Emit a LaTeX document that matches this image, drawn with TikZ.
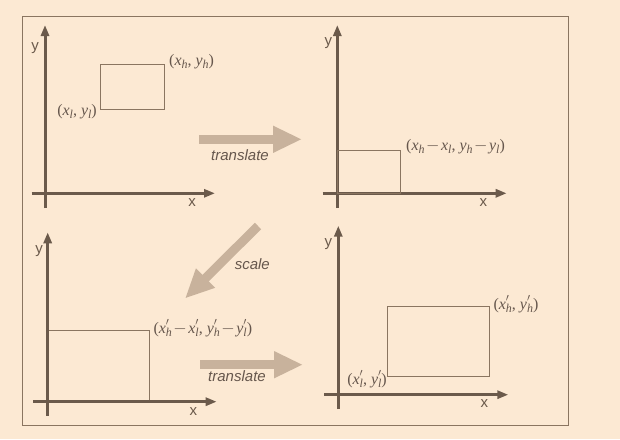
\documentclass[tikz,border=0pt]{standalone}
\usepackage{fontspec}
\setmainfont{Liberation Serif}
\setsansfont{Liberation Sans}
\usetikzlibrary{arrows.meta}
\definecolor{bg}{HTML}{FCE9D3}
\definecolor{axisc}{HTML}{6B5A4B}
\definecolor{rectc}{HTML}{8A7560}
\definecolor{fatc}{HTML}{C8B29C}
\definecolor{txtc}{HTML}{66574D}
\newcommand\myvar[3]{\textit{#1}\makebox[0pt][l]{\raisebox{0.2ex}{$^{#2}$}}\raisebox{-0.4ex}{\fontsize{12}{12}\selectfont\itshape #3}}
\newcommand\mymin{\kern1.5pt$-$\kern1.5pt}
\begin{document}
\begin{tikzpicture}[x=1pt,y=-1pt,
  axisline/.style={draw=axisc, line width=3pt, -{Triangle[length=11pt,width=8pt]}},
  boxline/.style={draw=rectc, line width=1pt},
  fatarrow/.style={draw=fatc, line width=9pt, -{Triangle[length=29pt,width=25pt]}},
  axlabel/.style={text=axisc, font=\sffamily\fontsize{15}{15}\selectfont, inner sep=0pt},
  mlabel/.style={text=txtc, font=\fontsize{16}{16}\selectfont, inner sep=0pt},
  oplabel/.style={text=txtc, font=\sffamily\itshape\fontsize{15}{15}\selectfont, inner sep=0pt}]
\fill[bg] (0,0) rectangle (620,439);
\useasboundingbox (0,0) rectangle (620,439);
\draw[draw=rectc, line width=1pt] (22.7,16.7) rectangle (568.7,425.7);

% ---- panel 1
\coordinate (p1yb) at (45,208);   \coordinate (p1yt) at (45,25);
\coordinate (p1xl) at (31.7,193.3); \coordinate (p1xr) at (215,193.3);
\draw[axisline] (p1yb) -- (p1yt);
\draw[axisline] (p1xl) -- (p1xr);
\node[axlabel] (p1y) at (35,48) {y};
\node[axlabel] (p1x) at (192,203) {x};
\coordinate (r1a) at (100.7,109); \coordinate (r1b) at (164.3,64.3);
\draw[boxline] (r1a) rectangle (r1b);
\node[mlabel, anchor=west] (l1h) at (169,61.7) {(\myvar{x}{}{h}, \myvar{y}{}{h})};
\node[mlabel, anchor=east] (l1l) at (97,111.7) {(\myvar{x}{}{l}, \myvar{y}{}{l})};

% ---- panel 2
\coordinate (p2yb) at (337.3,208);   \coordinate (p2yt) at (337.3,25);
\coordinate (p2xl) at (322.7,193.3); \coordinate (p2xr) at (506.7,193.3);
\draw[axisline] (p2yb) -- (p2yt);
\draw[axisline] (p2xl) -- (p2xr);
\node[axlabel] (p2y) at (328.3,43) {y};
\node[axlabel] (p2x) at (483.3,203) {x};
\coordinate (r2a) at (337.3,193.3); \coordinate (r2b) at (400.7,150);
\draw[boxline] (r2a) rectangle (r2b);
\node[mlabel, anchor=west] (l2) at (406,146.7) {(\myvar{x}{}{h}\mymin\myvar{x}{}{l}, \myvar{y}{}{h}\mymin\myvar{y}{}{l})};

% ---- panel 3
\coordinate (p3yb) at (47.7,415.7);   \coordinate (p3yt) at (47.7,232.3);
\coordinate (p3xl) at (33.3,401.7); \coordinate (p3xr) at (216.7,401.7);
\draw[boxline] (47.7,401.7) rectangle (149,330.7);
\draw[axisline] (p3yb) -- (p3yt);
\draw[axisline] (p3xl) -- (p3xr);
\node[axlabel] (p3y) at (39,250.7) {y};
\node[axlabel] (p3x) at (193.3,411.7) {x};
\node[mlabel, anchor=west] (l3) at (153.3,328) {(\myvar{x}{\prime}{h}\mymin\myvar{x}{\prime}{l}, \myvar{y}{\prime}{h}\mymin\myvar{y}{\prime}{l})};

% ---- panel 4
\coordinate (p4yb) at (338.3,409);   \coordinate (p4yt) at (338.3,225.7);
\coordinate (p4xl) at (324,394.7); \coordinate (p4xr) at (508.3,394.7);
\draw[axisline] (p4yb) -- (p4yt);
\draw[axisline] (p4xl) -- (p4xr);
\node[axlabel] (p4y) at (328.3,244) {y};
\node[axlabel] (p4x) at (484.3,404) {x};
\coordinate (r4a) at (387.7,376.3); \coordinate (r4b) at (489.3,306.3);
\draw[boxline] (r4a) rectangle (r4b);
\node[mlabel, anchor=west] (l4h) at (493.3,304) {(\myvar{x}{\prime}{h}, \myvar{y}{\prime}{h})};
\node[mlabel, anchor=east] (l4l) at (387,379) {(\myvar{x}{\prime}{l}, \myvar{y}{\prime}{l})};

% ---- operation arrows
\coordinate (t1s) at (199,139.3); \coordinate (t1e) at (302,139.3);
\draw[fatarrow] (t1s) -- (t1e);
\node[oplabel] (t1) at (240,155) {translate};
\coordinate (s1s) at (258,226); \coordinate (s1e) at (185,298.5);
\draw[fatarrow] (s1s) -- (s1e);
\node[oplabel] (s1) at (252.3,264) {scale};
\coordinate (t2s) at (200,364.7); \coordinate (t2e) at (303,364.7);
\draw[fatarrow] (t2s) -- (t2e);
\node[oplabel] (t2) at (237,375.7) {translate};
\end{tikzpicture}
\end{document}
